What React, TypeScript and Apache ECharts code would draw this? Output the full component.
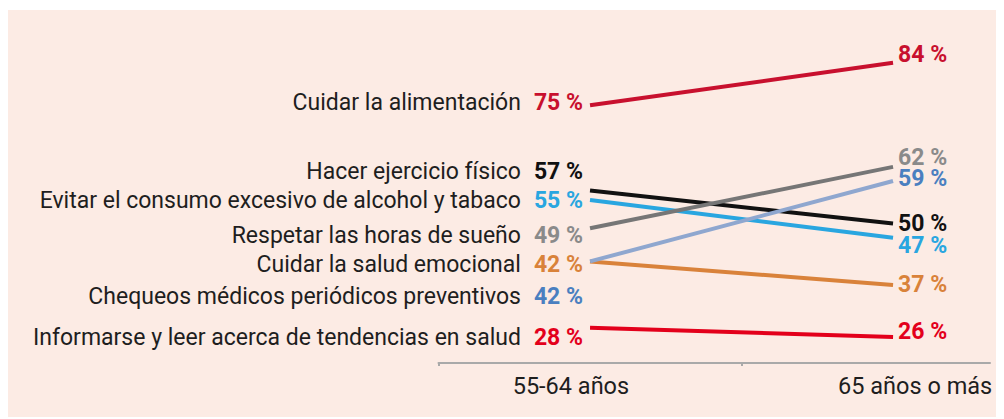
import React, { useEffect, useRef } from "react";
import * as echarts from "echarts";

const habits = [
  "Cuidar la alimentación",
  "Hacer ejercicio físico",
  "Evitar el consumo excesivo de alcohol y tabaco",
  "Respetar las horas de sueño",
  "Cuidar la salud emocional",
  "Chequeos médicos periódicos preventivos",
  "Informarse y leer acerca de tendencias en salud",
];
const values5564 = [75, 57, 55, 49, 42, 42, 28];
const values65plus = [84, 50, 47, 62, 37, 59, 26];
const ageGroups = ["55-64 años", "65 años o más"];

const lineColors = ["#c8102e", "#111111", "#29a6e0", "#767676", "#d9823a", "#8fa7cf", "#e3001b"];
const valueColors = ["#c8102e", "#111111", "#29a6e0", "#8a8a8a", "#d9823a", "#4a7fc0", "#e3001b"];

// vertical nudges of labels (px) so they don't collide
const nudgeLeft = [-3, -19, 1, 7, 3, 35, 10];
const nudgeRight = [-8.5, -0.5, 7.5, -9.5, -0.5, -2.5, -5.5];

const FONT = "Roboto";

export default function App() {
  const ref = useRef<HTMLDivElement>(null);
  useEffect(() => {
    if (!ref.current) return;
    const chart = echarts.init(ref.current, null, { renderer: "svg" });
    const series = habits.map((name, i) => ({
      type: "line",
      name,
      symbol: "circle",
      symbolSize: 0,
      showSymbol: true,
      lineStyle: { width: 4, color: lineColors[i], cap: "butt" },
      itemStyle: { color: lineColors[i] },
      emphasis: { disabled: true },
      data: [
        {
          value: [0, values5564[i]],
          label: {
            show: true,
            position: "left",
            distance: 7,
            offset: [0, nudgeLeft[i]],
            formatter: `{n|${name}}{v|${values5564[i]} %}`,
            rich: {
              n: { fontFamily: FONT, fontSize: 23, lineHeight: 20, color: "#1e1e1e" },
              v: {
                fontFamily: FONT,
                fontSize: 23,
                lineHeight: 20,
                fontWeight: "bold",
                color: valueColors[i],
                padding: [0, 0, 0, 13],
              },
            },
          },
        },
        {
          value: [1, values65plus[i]],
          label: {
            show: true,
            position: "right",
            distance: 5,
            offset: [0, nudgeRight[i]],
            formatter: `{v|${values65plus[i]} %}`,
            rich: {
              v: {
                fontFamily: FONT,
                fontSize: 23,
                lineHeight: 18,
                fontWeight: "bold",
                color: valueColors[i],
              },
            },
          },
        },
      ],
    }));
    const labelPositions = [-0.063, 1.073];
    chart.setOption({
      animation: false,
      backgroundColor: "#fcebe4",
      grid: { left: 430.5, right: 14, top: 24.4, bottom: 53.5, containLabel: false },
      xAxis: {
        type: "value",
        min: -0.5,
        max: 1.32,
        offset: -2.5,
        splitLine: { show: false },
        axisLine: { show: true, lineStyle: { color: "#a9a9a9", width: 2 } },
        axisTick: {
          show: true,
          customValues: [-0.5, 0.5],
          length: 3,
          lineStyle: { color: "#a9a9a9", width: 2 },
        },
        axisLabel: {
          show: true,
          customValues: labelPositions,
          margin: 11,
          fontFamily: FONT,
          fontSize: 23.5,
          color: "#1e1e1e",
          formatter: (v: number) => (v < 0.5 ? ageGroups[0] : ageGroups[1]),
        },
      },
      yAxis: {
        type: "value",
        min: 20,
        max: 90,
        show: false,
        splitLine: { show: false },
      },
      series,
    });
    return () => chart.dispose();
  }, []);
  return (
    <div style={{ position: "relative", top: 2 }}>
      <div ref={ref} style={{ width: 996, height: 409 }} />
    </div>
  );
}
